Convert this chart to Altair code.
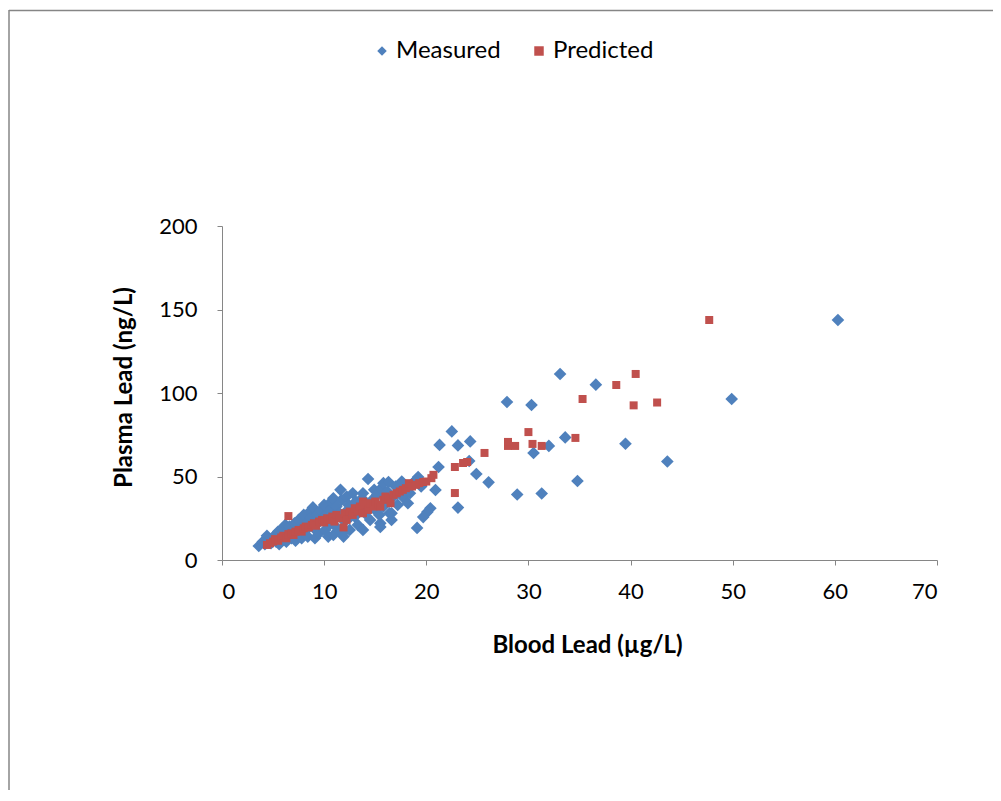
import altair as alt
import pandas as pd

# Measured: blood lead (x) vs plasma lead (y)
meas_x = [60.3, 49.9, 36.6, 33.1, 27.9, 30.3, 39.5, 43.6, 34.8, 33.6, 32.0, 30.5, 31.3, 28.9,
          26.1, 24.9, 24.2, 24.3, 23.1, 22.5, 21.3, 21.2, 23.1, 20.9, 20.4, 20.1, 19.7, 19.1,
          3.6, 4.0, 4.4, 4.2, 4.8, 4.9, 5.2, 5.3, 5.5, 5.6, 5.8, 5.9, 6.0, 6.2, 6.3, 6.5, 6.6,
          6.8, 7.0, 7.1, 7.2, 7.4, 7.5, 7.7, 7.8, 8.0, 8.1, 8.3, 8.4, 8.6, 8.7, 8.9, 9.0, 9.1,
          9.3, 9.4, 9.5, 9.7, 9.8, 10.0, 10.1, 10.2, 10.4, 10.5, 10.6, 10.7, 10.9, 10.9, 11.0,
          11.2, 11.3, 11.5, 11.6, 11.7, 11.8, 11.9, 12.0, 12.2, 12.3, 12.4, 12.5, 12.6, 12.8,
          13.0, 13.1, 13.3, 13.5, 13.7, 13.8, 13.8, 14.0, 14.2, 14.3, 14.5, 14.7, 14.9, 15.0,
          15.2, 15.4, 15.5, 15.6, 15.8, 15.8, 16.0, 16.2, 16.3, 16.4, 16.6, 16.8, 17.0, 17.2,
          17.6, 17.7, 18.1, 18.2, 18.4, 18.7, 19.0, 19.2, 19.5, 15.5, 16.6]
meas_y = [143.7, 96.4, 105.0, 111.4, 94.6, 92.8, 69.6, 59.0, 47.3, 73.4, 68.3, 64.1, 39.8, 39.2,
          46.5, 51.5, 59.3, 71.0, 68.6, 77.0, 68.9, 55.7, 31.4, 41.9, 31.0, 28.7, 25.7, 19.2,
          8.4, 11.0, 14.5, 9.5, 10.0, 13.0, 15.0, 11.0, 17.0, 9.5, 12.0, 19.0, 14.0, 21.0, 11.0,
          16.0, 20.0, 13.0, 18.0, 22.0, 11.5, 15.0, 24.0, 19.0, 13.0, 27.0, 17.0, 22.0, 14.0,
          29.0, 25.0, 31.5, 19.0, 13.0, 27.0, 22.0, 16.0, 30.0, 24.0, 33.0, 18.0, 27.0, 14.0,
          21.0, 30.0, 35.0, 37.0, 15.0, 25.0, 32.0, 19.0, 28.0, 42.0, 36.0, 16.0, 14.0, 23.0,
          38.0, 30.0, 33.0, 18.0, 26.0, 40.0, 26.0, 35.0, 21.0, 31.0, 37.0, 40.0, 18.0, 28.0,
          33.0, 48.5, 24.0, 36.0, 42.0, 30.0, 39.0, 27.0, 22.0, 43.0, 46.0, 32.0, 36.0, 41.0,
          46.7, 28.0, 24.0, 38.0, 44.0, 33.0, 47.0, 37.7, 44.0, 34.0, 40.0, 46.0, 48.0, 49.7,
          44.0, 19.8, 28.0]

# Predicted
pred_x = [47.7, 40.5, 38.6, 35.3, 40.3, 42.6, 34.6, 31.3, 30.4, 30.0, 28.7, 28.0, 28.0, 25.7,
          24.0, 23.6, 22.8, 22.8, 20.7, 20.5, 6.5,
          4.4, 4.7, 5.0, 5.2, 5.5, 5.8, 6.0, 6.3, 6.5, 6.8, 7.0, 7.2, 7.5, 7.8, 8.0, 8.2, 8.5,
          8.8, 9.0, 9.2, 9.5, 9.8, 10.0, 10.3, 10.6, 10.8, 11.0, 11.2, 11.5, 11.9, 12.0, 12.2,
          12.5, 12.8, 13.0, 13.3, 13.5, 13.8, 13.8, 14.0, 14.3, 14.5, 14.8, 15.0, 15.3, 15.5,
          15.8, 16.0, 16.3, 16.5, 16.8, 17.1, 17.4, 17.7, 18.0, 18.3, 18.6, 19.0, 19.3, 19.7, 20.0]
pred_y = [143.7, 111.4, 104.8, 96.4, 92.6, 94.3, 73.1, 68.3, 69.5, 76.6, 68.3, 68.3, 70.7, 64.1,
          58.7, 58.1, 55.7, 40.1, 51.0, 49.0, 26.3,
          9.0, 10.0, 11.0, 12.5, 11.5, 13.5, 14.5, 13.0, 15.5, 16.0, 15.0, 17.0, 18.0, 17.0,
          19.0, 20.0, 19.5, 21.0, 22.0, 20.5, 23.0, 24.0, 22.5, 25.0, 24.0, 26.0, 23.0, 27.0,
          25.0, 19.5, 28.0, 24.0, 29.0, 27.0, 31.0, 29.0, 32.0, 28.0, 35.0, 33.0, 30.0, 34.0,
          32.0, 35.0, 33.0, 32.0, 36.0, 38.0, 37.0, 34.0, 39.0, 40.0, 41.0, 42.0, 43.0, 46.0,
          44.0, 45.0, 46.0, 46.7, 47.0]

series = ["Measured", "Predicted"]
colors = ["#4F81BD", "#C0504D"]
shapes = ["diamond", "square"]

df_m = pd.DataFrame({"x": meas_x, "y": meas_y, "series": "Measured"})
df_p = pd.DataFrame({"x": pred_x, "y": pred_y, "series": "Predicted"})

FONT = "Lato"
AX = "#868686"

color_enc = alt.Color("series:N", scale=alt.Scale(domain=series, range=colors), title=None)
shape_enc = alt.Shape("series:N", scale=alt.Scale(domain=series, range=shapes), title=None)

xenc = alt.X("x:Q", title="Blood Lead (µg/L)",
             scale=alt.Scale(domain=[0, 70], nice=False),
             axis=alt.Axis(values=[0, 10, 20, 30, 40, 50, 60, 70], grid=False,
                           domainColor=AX, tickColor=AX, tickSize=5,
                           labelFontSize=22, labelFont=FONT, labelColor="black",
                           labelPadding=16, titleFontSize=24, titleFont=FONT,
                           titleFontWeight="bold", titleColor="black", titlePadding=31,
                           titleX=365))
yenc = alt.Y("y:Q", title="Plasma Lead (ng/L)",
             scale=alt.Scale(domain=[0, 200], nice=False),
             axis=alt.Axis(values=[0, 50, 100, 150, 200], grid=False,
                           domainColor=AX, tickColor=AX, tickSize=5,
                           labelFontSize=22, labelFont=FONT, labelColor="black",
                           labelPadding=20, titleFontSize=24, titleFont=FONT,
                           titleFontWeight="bold", titleColor="black", titlePadding=22,
                           titleY=161))

meas = alt.Chart(df_m).mark_point(filled=True, size=160, opacity=1).encode(
    x=xenc, y=yenc, color=color_enc, shape=shape_enc)
pred = alt.Chart(df_p).mark_point(filled=True, size=64, opacity=1).encode(
    x="x:Q", y="y:Q", color=color_enc, shape=shape_enc)

left_line = alt.Chart(df_m.head(1)).mark_rule(stroke=AX, strokeWidth=1.5).encode(
    x=alt.value(-213), y=alt.value(-216), y2=alt.value(900))
top_line = alt.Chart(df_m.head(1)).mark_rule(stroke=AX, strokeWidth=1.5).encode(
    x=alt.value(-213), x2=alt.value(900), y=alt.value(-215.5))

chart = alt.layer(left_line, top_line, meas, pred).properties(
    width=715, height=334,
    autosize=alt.AutoSizeParams(type="none"),
    padding={"left": 214, "top": 218, "right": 56, "bottom": 230},
).configure_view(stroke=None).configure_legend(
    orient="none", legendX=148, legendY=-187, direction="horizontal",
    labelFontSize=24, labelFont=FONT, labelColor="black", symbolSize=90,
    symbolStrokeWidth=0, columnPadding=26, labelOffset=2,
)

chart.save("out.html", embed_options={"renderer": "svg", "actions": False})
